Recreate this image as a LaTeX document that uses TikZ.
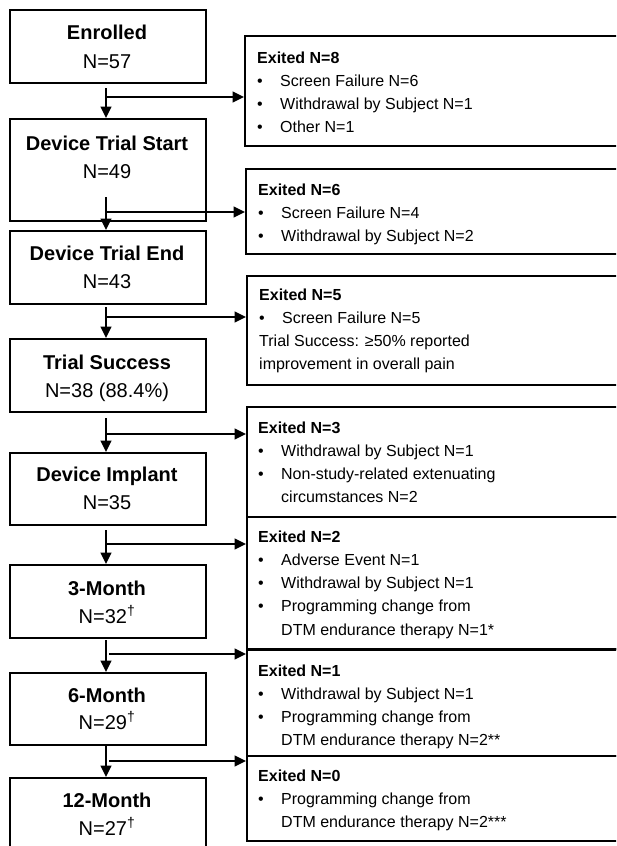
\documentclass[tikz,border=0pt]{standalone}
\usepackage{fontspec}
\setmainfont{Liberation Sans}
\usetikzlibrary{arrows.meta}
\newcommand\bl{\makebox[23pt][l]{•}}
\newcommand\ind{\hspace*{23pt}}
\begin{document}
\begin{tikzpicture}[x=1pt,y=-1pt,
 lbox/.style={draw, line width=1.7pt, anchor=north west, minimum width=196pt, inner sep=0pt},
 rbox/.style={draw, line width=1.7pt, anchor=north west, minimum width=390pt, inner sep=0pt},
 ttl/.style={anchor=base, inner sep=0pt, font=\fontsize{20}{24}\selectfont\bfseries},
 nn/.style={anchor=base, inner sep=0pt, font=\fontsize{20}{24}\selectfont},
 etxt/.style={anchor=base west, inner sep=0pt, font=\fontsize{16}{23.3}\selectfont},
 arr/.style={line width=1.7pt, -{Triangle[length=11.5pt,width=11pt]}}]
\useasboundingbox (0,0) rectangle (616,846);
\clip (0,0) rectangle (616,846);
% left boxes
\node[lbox, minimum height=73pt]  (b1) at (9,9) {};
\node[lbox, minimum height=102pt] (b2) at (9,118) {};
\node[lbox, minimum height=73pt]  (b3) at (9,230) {};
\node[lbox, minimum height=73pt]  (b4) at (9,338) {};
\node[lbox, minimum height=72pt]  (b5) at (9,452) {};
\node[lbox, minimum height=73pt]  (b6) at (9,564) {};
\node[lbox, minimum height=72pt]  (b7) at (9,672) {};
\node[lbox, minimum height=90pt]  (b8) at (9,777) {};
\node[ttl] (t1) at (107,39) {Enrolled};
\node[nn]  (n1) at (107,68) {N=57};
\node[ttl] (t2) at (107,150) {Device Trial Start};
\node[nn]  (n2) at (107,178) {N=49};
\node[ttl] (t3) at (107,260) {Device Trial End};
\node[nn]  (n3) at (107,288) {N=43};
\node[ttl] (t4) at (107,369) {Trial Success};
\node[nn]  (n4) at (107,397) {N=38 (88.4\%)};
\node[ttl] (t5) at (107,481) {Device Implant};
\node[nn]  (n5) at (107,509) {N=35};
\node[ttl] (t6) at (107,595) {3-Month};
\node[nn]  (n6) at (107,623) {N=32\textsuperscript{†}};
\node[ttl] (t7) at (107,702) {6-Month};
\node[nn]  (n7) at (107,729) {N=29\textsuperscript{†}};
\node[ttl] (t8) at (107,807) {12-Month};
\node[nn]  (n8) at (107,835) {N=27\textsuperscript{†}};
% right boxes
\node[rbox, minimum height=110pt] (e1) at (244,35) {};
\node[rbox, minimum height=85pt]  (e2) at (245,168) {};
\node[rbox, minimum height=109pt] (e3) at (246,275) {};
\node[rbox, minimum height=110pt] (e4) at (246,406) {};
\node[rbox, minimum height=132pt] (e5) at (246,516) {};
\node[rbox, minimum height=107pt] (e6) at (246,648) {};
\node[rbox, minimum height=85pt]  (e7) at (246,755) {};
\draw[line width=3pt] (e5.south west) -- (e5.south east);
\node[etxt] (x1) at (257,63) {\begin{tabular}[t]{@{}l@{}}\textbf{Exited N=8}\\ \bl Screen Failure N=6\\ \bl Withdrawal by Subject N=1\\ \bl Other N=1\end{tabular}};
\node[etxt] (x2) at (258,195) {\begin{tabular}[t]{@{}l@{}}\textbf{Exited N=6}\\ \bl Screen Failure N=4\\ \bl Withdrawal by Subject N=2\end{tabular}};
\node[etxt] (x3) at (259,300) {\begin{tabular}[t]{@{}l@{}}\textbf{Exited N=5}\\ \bl Screen Failure N=5\\ Trial Success: ≥50\% reported\\ improvement in overall pain\end{tabular}};
\node[etxt] (x4) at (258,433) {\begin{tabular}[t]{@{}l@{}}\textbf{Exited N=3}\\ \bl Withdrawal by Subject N=1\\ \bl Non-study-related extenuating\\ \ind circumstances N=2\end{tabular}};
\node[etxt] (x5) at (258,542) {\begin{tabular}[t]{@{}l@{}}\textbf{Exited N=2}\\ \bl Adverse Event N=1\\ \bl Withdrawal by Subject N=1\\ \bl Programming change from\\ \ind DTM endurance therapy N=1*\end{tabular}};
\node[etxt] (x6) at (258,676) {\begin{tabular}[t]{@{}l@{}}\textbf{Exited N=1}\\ \bl Withdrawal by Subject N=1\\ \bl Programming change from\\ \ind DTM endurance therapy N=2**\end{tabular}};
\node[etxt] (x7) at (258,781) {\begin{tabular}[t]{@{}l@{}}\textbf{Exited N=0}\\ \bl Programming change from\\ \ind DTM endurance therapy N=2***\end{tabular}};
% connectors
\coordinate (v1) at (106,88);  \coordinate (h1) at (106,97);
\coordinate (v2) at (106,197); \coordinate (h2) at (106,212);
\coordinate (v3) at (106,307); \coordinate (h3) at (106,317);
\coordinate (v4) at (106,418); \coordinate (h4) at (106,434);
\coordinate (v5) at (106,530); \coordinate (h5) at (106,544);
\coordinate (v6) at (106,640); \coordinate (h6) at (109,654);
\coordinate (v7) at (106,744); \coordinate (h7) at (109,761);
\draw[arr] (v1) -- (v1 |- b2.north);
\draw[arr] (v2) -- (v2 |- b3.north);
\draw[arr] (v3) -- (v3 |- b4.north);
\draw[arr] (v4) -- (v4 |- b5.north);
\draw[arr] (v5) -- (v5 |- b6.north);
\draw[arr] (v6) -- (v6 |- b7.north);
\draw[arr] (v7) -- (v7 |- b8.north);
\draw[arr] (h1) -- (h1 -| e1.west);
\draw[arr] (h2) -- (h2 -| e2.west);
\draw[arr] (h3) -- (h3 -| e3.west);
\draw[arr] (h4) -- (h4 -| e4.west);
\draw[arr] (h5) -- (h5 -| e5.west);
\draw[arr] (h6) -- (h6 -| e6.west);
\draw[arr] (h7) -- (h7 -| e7.west);
\end{tikzpicture}
\end{document}
